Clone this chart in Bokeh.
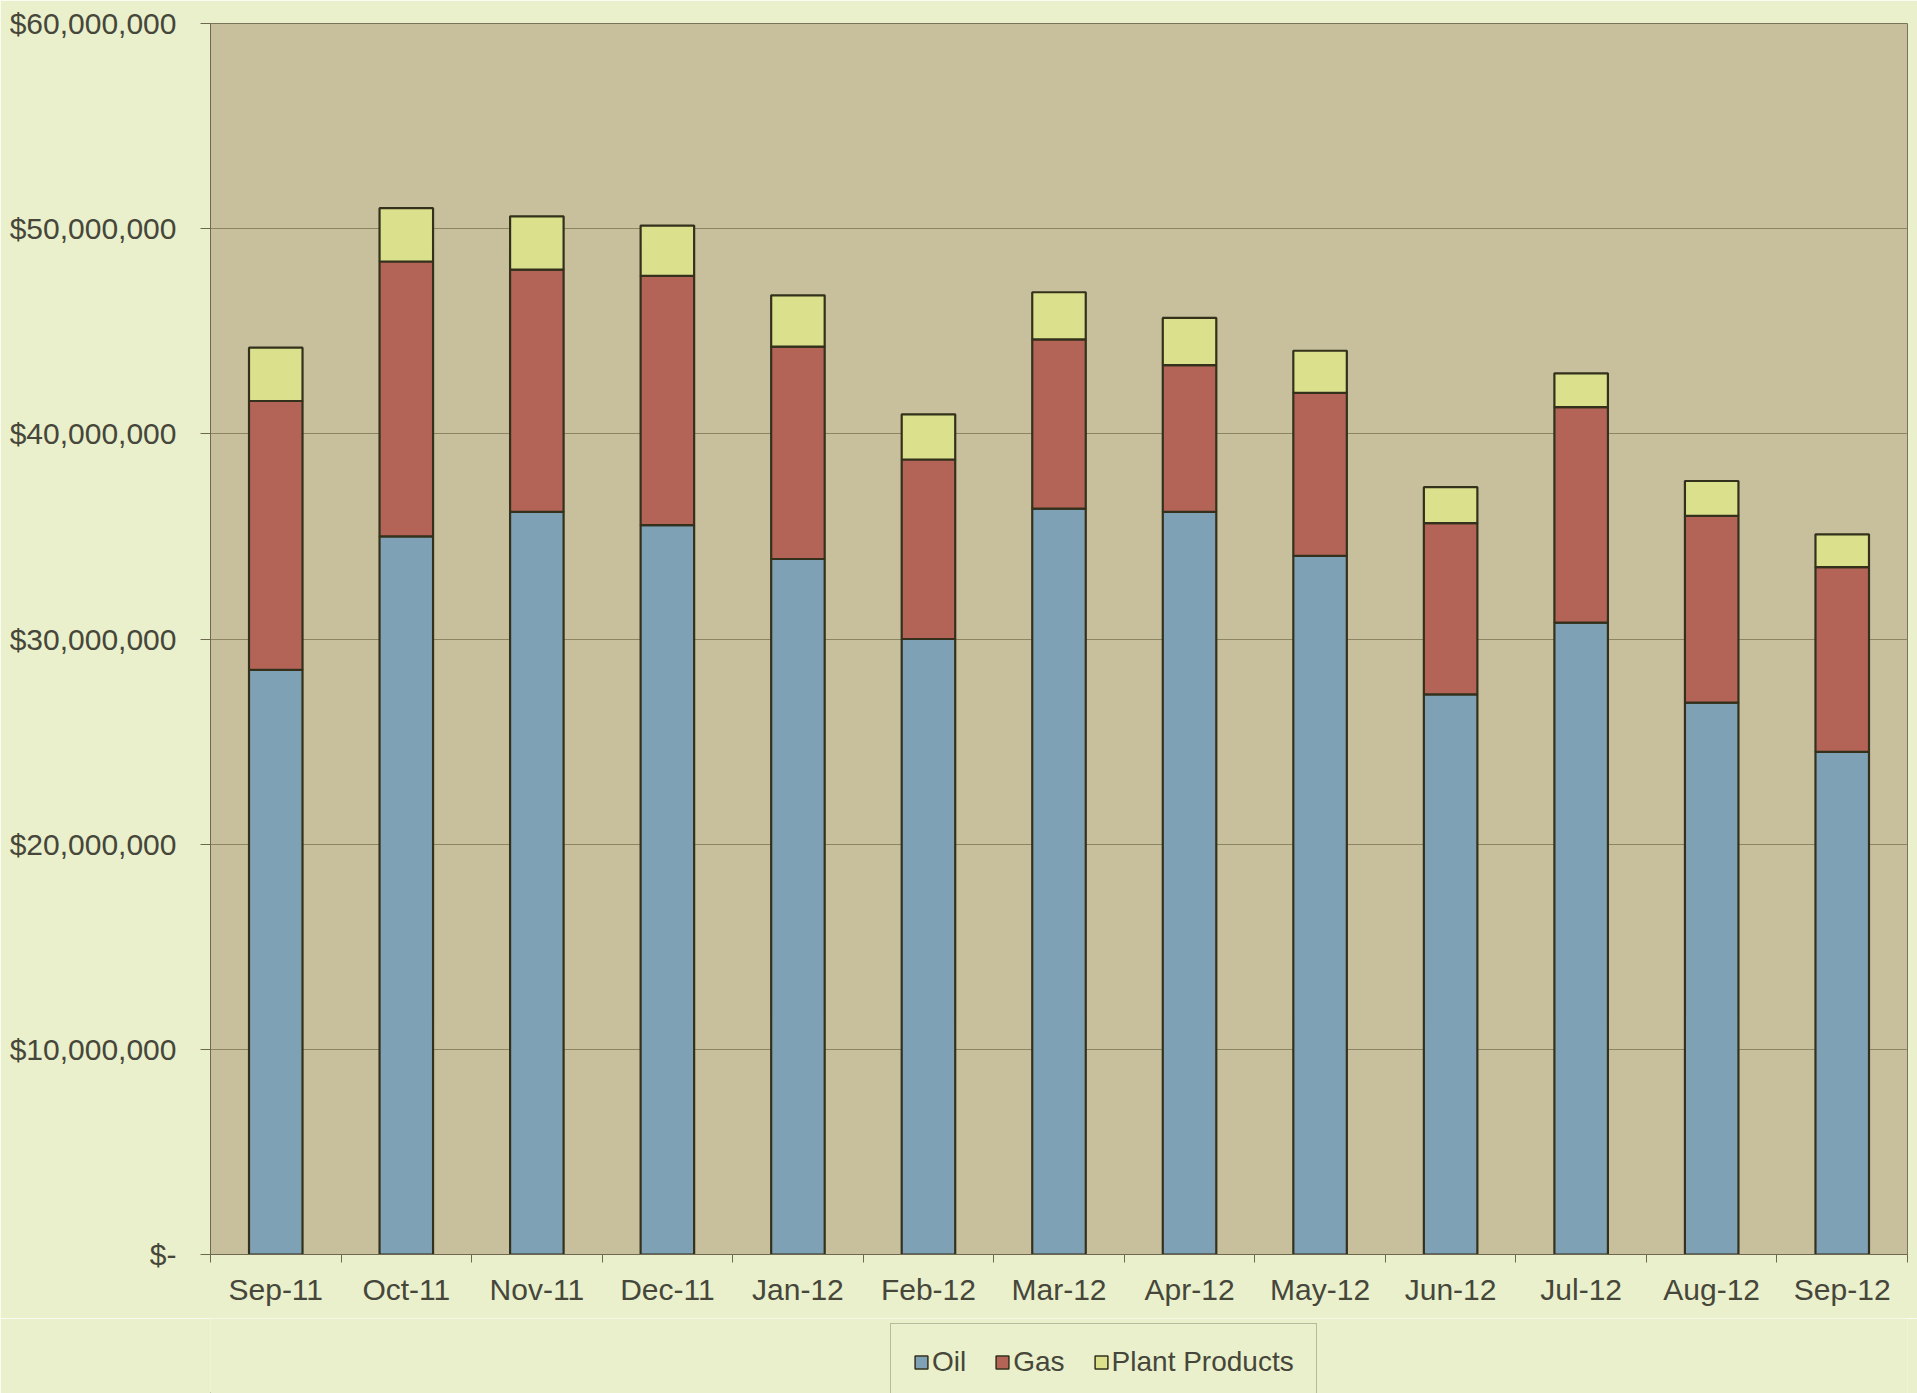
from bokeh.plotting import figure
from bokeh.models import (FixedTicker, NumeralTickFormatter, Range1d, ColumnDataSource,
                          Legend, LegendItem)
from bokeh.layouts import column
from bokeh.embed import file_html
from bokeh.resources import INLINE

months = ["Sep-11", "Oct-11", "Nov-11", "Dec-11", "Jan-12", "Feb-12", "Mar-12",
          "Apr-12", "May-12", "Jun-12", "Jul-12", "Aug-12", "Sep-12"]
oil = [28_500_000, 35_000_000, 36_200_000, 35_550_000, 33_900_000, 30_000_000, 36_350_000,
       36_200_000, 34_050_000, 27_300_000, 30_800_000, 26_900_000, 24_500_000]
gas = [13_100_000, 13_400_000, 11_800_000, 12_150_000, 10_350_000, 8_750_000, 8_250_000,
       7_150_000, 7_950_000, 8_350_000, 10_500_000, 9_100_000, 9_000_000]
plant = [2_600_000, 2_600_000, 2_600_000, 2_450_000, 2_500_000, 2_200_000, 2_300_000,
         2_300_000, 2_050_000, 1_750_000, 1_650_000, 1_700_000, 1_600_000]
series = ["Oil", "Gas", "Plant Products"]
colors = ["#7FA1B5", "#B46457", "#DBE08C"]
y_ticks = [0, 10_000_000, 20_000_000, 30_000_000, 40_000_000, 50_000_000, 60_000_000]

PAGE_BG = "#E9F0CB"
PLOT_BG = "#C8C09D"
TEXT = "#46463A"
EDGE = "#33301C"
FONT = "Liberation Sans"
FS = "30px"

xs = [i + 0.5 for i in range(len(months))]
source = ColumnDataSource(dict(x=xs, oil=oil, gas=gas, plant=plant))

p = figure(width=1917, height=1318, output_backend="svg", toolbar_location=None,
           x_range=Range1d(0, len(months)), y_range=Range1d(0, 60_000_000),
           min_border_left=210, min_border_right=10, min_border_top=23, min_border_bottom=64)
p.background_fill_color = PLOT_BG
p.border_fill_color = PAGE_BG
p.outline_line_color = "#7A745A"
p.outline_line_width = 1

p.vbar_stack(["oil", "gas", "plant"], x="x", width=0.41, source=source,
             fill_color=colors, line_color=EDGE, line_width=2.2)

# y axis
p.yaxis.ticker = FixedTicker(ticks=y_ticks, minor_ticks=[])
p.yaxis.formatter = NumeralTickFormatter(format="$0,0")
p.yaxis.major_label_overrides = {0: "$-"}
p.yaxis.major_tick_out = 10
p.yaxis.major_tick_in = 0
p.yaxis.minor_tick_out = 0
p.yaxis.major_label_standoff = 24
p.yaxis.axis_line_color = "#6E6850"
p.yaxis.major_tick_line_color = "#6E6850"

# x axis
p.xaxis.ticker = FixedTicker(ticks=xs, minor_ticks=list(range(len(months) + 1)))
p.xaxis.major_label_overrides = {x: m for x, m in zip(xs, months)}
p.xaxis.major_tick_out = 0
p.xaxis.major_tick_in = 0
p.xaxis.minor_tick_out = 8
p.xaxis.minor_tick_in = 0
p.xaxis.minor_tick_line_color = "#6E6850"
p.xaxis.axis_line_color = "#6E6850"
p.xaxis.major_label_standoff = 10

for ax in (p.xaxis, p.yaxis):
    ax.major_label_text_font = FONT
    ax.major_label_text_font_size = FS
    ax.major_label_text_color = TEXT

p.xgrid.visible = False
p.ygrid.grid_line_color = "#8C8563"
p.ygrid.grid_line_width = 1

# legend strip below the chart
q = figure(width=1917, height=75, output_backend="svg", toolbar_location=None,
           x_range=Range1d(0, 1), y_range=Range1d(0, 1),
           x_axis_type=None, y_axis_type=None,
           min_border_left=210, min_border_right=10, min_border_top=0, min_border_bottom=0)
q.background_fill_color = PAGE_BG
q.border_fill_color = PAGE_BG
q.outline_line_color = None
q.xgrid.visible = False
q.ygrid.visible = False

# legend-only renderers: kept outside the visible range so only their legend swatches show
items = []
for name, c in zip(series, colors):
    r = q.vbar(x=[-5], top=[-5], bottom=[-6], width=0.1,
               fill_color=c, line_color=EDGE, line_width=1.5)
    items.append(LegendItem(label=name, renderers=[r]))

lg = Legend(items=items, orientation="horizontal", margin=0, padding=22, spacing=28,
            label_standoff=3, glyph_width=16, glyph_height=16, label_height=30,
            label_text_font=FONT, label_text_font_size="28px", label_text_color=TEXT,
            border_line_color="#85856F", border_line_width=1.5,
            background_fill_color=PAGE_BG, background_fill_alpha=1,
            location=(680, -8))
q.add_layout(lg, "center")

layout = column(p, q, spacing=0)
open("out.html", "w").write(file_html(layout, INLINE))
